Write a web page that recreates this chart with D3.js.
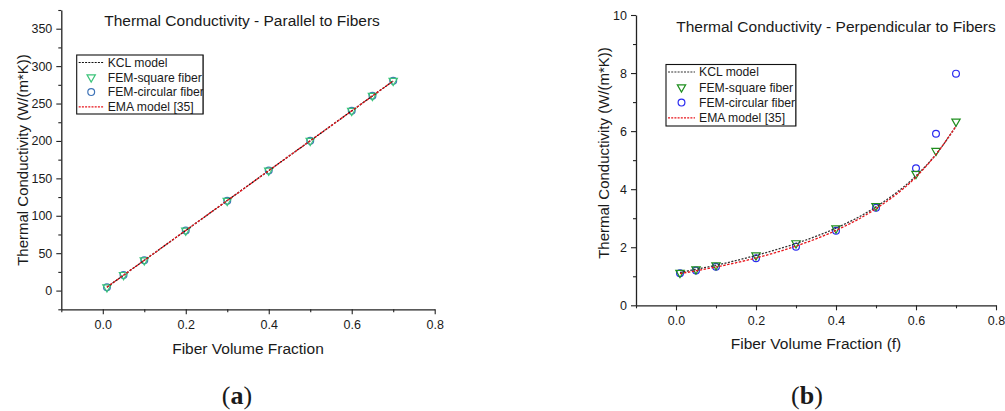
<!DOCTYPE html>
<html>
<head>
<meta charset="utf-8">
<script src="https://cdn.jsdelivr.net/npm/d3@7"></script>
<style>
  html, body { margin: 0; padding: 0; background: #fff; }
  svg { display: block; }
  text { font-family: "Liberation Sans", Arial, sans-serif; fill: #1a1a1a; }
  .caption { font-family: "Liberation Serif", "DejaVu Serif", serif; }
</style>
</head>
<body>
<svg id="fig" width="1005" height="411"></svg>
<script>
// Fiber volume fractions at which the models and FEM cases were evaluated
const fraction = [0.01, 0.05, 0.1, 0.2, 0.3, 0.4, 0.5, 0.6, 0.65, 0.7];

// (a) conductivity parallel to fibers, W/(m*K)
const kclParallel        = [4.6, 20.6, 40.5, 80.4, 120.3, 160.3, 200.2, 240.2, 260.2, 280.2];
const emaParallel        = [4.6, 20.6, 40.5, 80.4, 120.3, 160.3, 200.2, 240.2, 260.2, 280.2];
const femSquareParallel  = [4.5, 21.0, 40.6, 80.2, 120.0, 160.4, 200.1, 240.2, 260.3, 280.3];
const femCircleParallel  = [4.5, 21.0, 40.6, 80.2, 120.0, 160.4, 200.1, 240.2, 260.3, 280.3];

// (b) conductivity perpendicular to fibers, W/(m*K)
const kclPerp       = [1.13, 1.24, 1.38, 1.72, 2.13, 2.66, 3.39, 4.46, 5.20, 6.17];
const emaPerp       = [1.09, 1.19, 1.32, 1.63, 2.04, 2.58, 3.33, 4.42, 5.20, 6.17];
const femSquarePerp = [1.12, 1.24, 1.38, 1.72, 2.14, 2.65, 3.42, 4.53, 5.32, 6.33];
const femCirclePerp = [1.10, 1.20, 1.33, 1.62, 2.02, 2.57, 3.36, 4.72, 5.91, 7.98];

// Axis tick values
const xMajorTicks = [0.0, 0.2, 0.4, 0.6, 0.8];
const xMinorTicks = [-0.1, 0.1, 0.3, 0.5, 0.7];
const yMajorTicksA = [0, 50, 100, 150, 200, 250, 300, 350];
const yMinorTicksA = [-25, 25, 75, 125, 175, 225, 275, 325, 375];
const yMajorTicksB = [0, 2, 4, 6, 8, 10];
const yMinorTicksB = [1, 3, 5, 7, 9];

const legendLabels = ["KCL model", "FEM-square fiber", "FEM-circular fiber", "EMA model [35]"];

const svg = d3.select("#fig");

function panel(opt) {
  const g = svg.append("g");
  const x = d3.scaleLinear().domain([-0.1, 0.8]).range(opt.xRange);
  const y = d3.scaleLinear().domain(opt.yDomain).range(opt.yRange);
  const fmtX = d3.format(".1f");

  // x axis
  const xa = g.append("g").attr("transform", `translate(0,${opt.yRange[0]})`);
  xa.call(d3.axisBottom(x).tickValues(xMajorTicks).tickFormat(fmtX)
      .tickSize(5).tickSizeOuter(0).tickPadding(6));
  xa.append("g").call(d3.axisBottom(x).tickValues(xMinorTicks).tickFormat("")
      .tickSize(3).tickSizeOuter(0)).select(".domain").remove();

  // y axis
  const ya = g.append("g").attr("transform", `translate(${opt.xRange[0]},0)`);
  ya.call(d3.axisLeft(y).tickValues(opt.yMajor).tickFormat(d3.format("d"))
      .tickSize(5).tickSizeOuter(0).tickPadding(4));
  ya.append("g").call(d3.axisLeft(y).tickValues(opt.yMinor).tickFormat("")
      .tickSize(3).tickSizeOuter(0)).select(".domain").remove();

  g.selectAll(".domain").attr("stroke", "#222").attr("stroke-width", 1.3);
  g.selectAll(".tick line").attr("stroke", "#222").attr("stroke-width", 1.1);
  g.selectAll(".tick text").attr("font-size", 12.5)
    .attr("font-family", "Liberation Sans, Arial, sans-serif").attr("fill", "#1a1a1a");

  // titles
  g.append("text").attr("x", opt.titleX).attr("y", opt.titleY)
    .attr("text-anchor", "middle").attr("font-size", 15.5).text(opt.title);
  g.append("text").attr("x", (opt.xRange[0] + opt.xRange[1]) / 2).attr("y", opt.xTitleY)
    .attr("text-anchor", "middle").attr("font-size", 15.5).text(opt.xTitle);
  g.append("text")
    .attr("transform", `translate(${opt.yTitleX},${opt.yTitleCY}) rotate(-90)`)
    .attr("text-anchor", "middle").attr("font-size", 15).text("Thermal Conductivity (W/(m*K))");

  const pts = (vals) => fraction.map((f, i) => [f, vals[i]]);
  const line = d3.line().x(d => x(d[0])).y(d => y(d[1])).curve(d3.curveMonotoneX);

  // FEM circular fiber markers
  g.append("g").selectAll("circle").data(pts(opt.circle)).join("circle")
    .attr("cx", d => x(d[0])).attr("cy", d => y(d[1])).attr("r", 3.4)
    .attr("fill", "none").attr("stroke", opt.circleColor).attr("stroke-width", 1.2);

  // FEM square fiber markers (downward triangles)
  const tri = d3.symbol().type(d3.symbolTriangle).size(30);
  g.append("g").selectAll("path").data(pts(opt.square)).join("path")
    .attr("d", tri)
    .attr("transform", d => `translate(${x(d[0])},${y(d[1])}) rotate(180)`)
    .attr("fill", "none").attr("stroke", opt.squareColor).attr("stroke-width", 1.2);

  // model curves
  g.append("path").datum(pts(opt.kcl)).attr("d", line)
    .attr("fill", "none").attr("stroke", opt.kclColor).attr("stroke-width", 1.3)
    .attr("stroke-dasharray", "2,1.5");
  g.append("path").datum(pts(opt.ema)).attr("d", line)
    .attr("fill", "none").attr("stroke", "#e8141b").attr("stroke-width", 1.3)
    .attr("stroke-dasharray", "2.5,1.5");

  // legend
  const L = opt.legend;
  const lg = g.append("g");
  lg.append("rect").attr("x", L.x).attr("y", L.y).attr("width", L.w).attr("height", L.h)
    .attr("fill", "#fff").attr("stroke", "#111").attr("stroke-width", 1.1);
  legendLabels.forEach((lab, i) => {
    const cy = L.y + L.row0 + i * L.dy;
    if (i === 0 || i === 3) {
      lg.append("line").attr("x1", L.x + 2).attr("x2", L.x + L.sample)
        .attr("y1", cy).attr("y2", cy)
        .attr("stroke", i === 0 ? opt.kclColor : "#e8141b").attr("stroke-width", 1.2)
        .attr("stroke-dasharray", "2,1.2");
    } else if (i === 1) {
      lg.append("path").attr("d", tri)
        .attr("transform", `translate(${L.x + L.sample / 2 + 1},${cy}) rotate(180)`)
        .attr("fill", "none").attr("stroke", opt.squareColor).attr("stroke-width", 1.2);
    } else {
      lg.append("circle").attr("cx", L.x + L.sample / 2 + 1).attr("cy", cy).attr("r", 3.4)
        .attr("fill", "none").attr("stroke", opt.circleColor).attr("stroke-width", 1.2);
    }
    lg.append("text").attr("x", L.x + L.sample + 4).attr("y", cy + 4.3)
      .attr("font-size", 12.2).text(lab);
  });
  // re-stroke the right border so overflowing text is cut by it
  lg.append("line").attr("x1", L.x + L.w).attr("x2", L.x + L.w)
    .attr("y1", L.y).attr("y2", L.y + L.h).attr("stroke", "#111").attr("stroke-width", 1.1);
  lg.append("rect").attr("x", L.x + L.w + 0.6).attr("y", L.y - 0.5).attr("width", 6).attr("height", L.h + 1)
    .attr("fill", "#fff");

  // sub-figure caption
  const cap = g.append("text").attr("class", "caption")
    .attr("x", opt.captionX).attr("y", 404).attr("text-anchor", "middle")
    .attr("font-size", 26).attr("font-family", "Liberation Serif, DejaVu Serif, serif");
  cap.append("tspan").text("(");
  cap.append("tspan").attr("font-weight", "bold").text(opt.captionLetter);
  cap.append("tspan").text(")");
}

panel({
  xRange: [61.3, 434.7], yDomain: [-25, 375], yRange: [309.3, 10],
  yMajor: yMajorTicksA, yMinor: yMinorTicksA,
  title: "Thermal Conductivity - Parallel to Fibers", titleX: 242, titleY: 26,
  xTitle: "Fiber Volume Fraction", xTitleY: 354,
  yTitleX: 27.5, yTitleCY: 160,
  kcl: kclParallel, ema: emaParallel, square: femSquareParallel, circle: femCircleParallel,
  squareColor: "#3cc47a", circleColor: "#3f74b8", kclColor: "#111",
  legend: { x: 76.7, y: 55, w: 126.5, h: 59, row0: 7.5, dy: 14.8, sample: 27 },
  captionX: 237, captionLetter: "a"
});

panel({
  xRange: [636, 996], yDomain: [0, 10], yRange: [305.3, 15],
  yMajor: yMajorTicksB, yMinor: yMinorTicksB,
  title: "Thermal Conductivity - Perpendicular to Fibers", titleX: 836, titleY: 32,
  xTitle: "Fiber Volume Fraction (f)", xTitleY: 349,
  yTitleX: 609, yTitleCY: 153,
  kcl: kclPerp, ema: emaPerp, square: femSquarePerp, circle: femCirclePerp,
  squareColor: "#1f8f1f", circleColor: "#2a2af0", kclColor: "#333",
  legend: { x: 666, y: 64.5, w: 130, h: 61.5, row0: 7.5, dy: 15.3, sample: 29 },
  captionX: 807, captionLetter: "b"
});
</script>
</body>
</html>
